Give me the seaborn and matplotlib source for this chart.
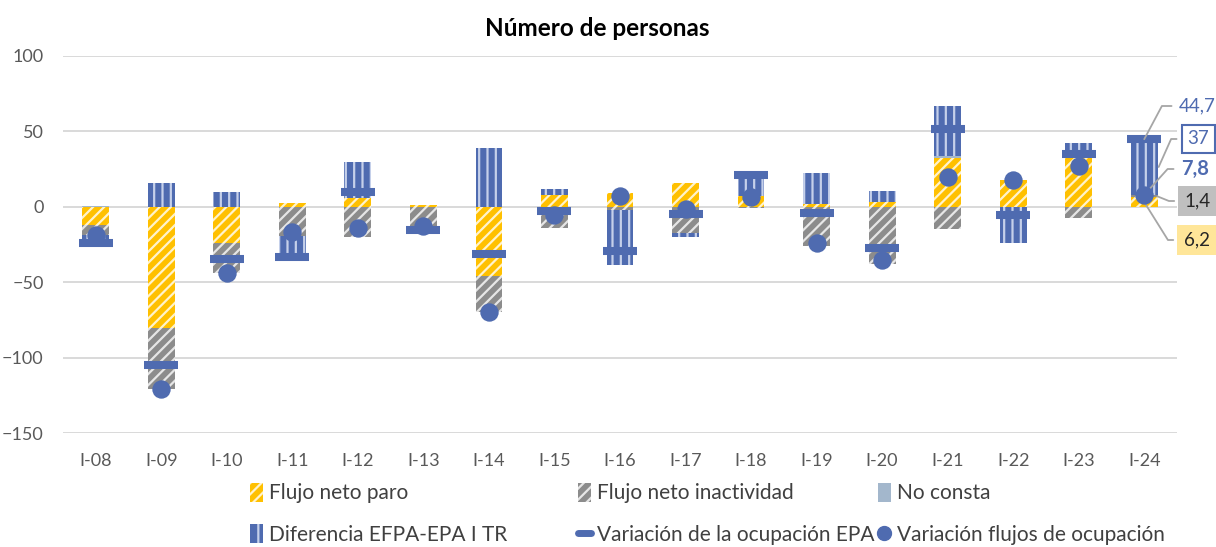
import numpy as np
import matplotlib
matplotlib.use("Agg")
import matplotlib.pyplot as plt
import seaborn as sns
from matplotlib.patches import Patch
from matplotlib.lines import Line2D

periodos = ["I-08", "I-09", "I-10", "I-11", "I-12", "I-13", "I-14", "I-15", "I-16",
            "I-17", "I-18", "I-19", "I-20", "I-21", "I-22", "I-23", "I-24"]
flujo_paro = [-12, -80, -24, 2.6, 5.6, 1.0, -46, 7.7, 9.3, 16, 7.0, 1.6, 3.3, 32.4, 17.7, 35, 6.2]
flujo_inactividad = [-7, -41, -20, -19.7, -20, -13.8, -23.6, -14.3, -2.2, -17.6, -0.8, -26, -38, -15, 0, -7.7, 1.4]
no_consta = [0.8, 0, 0, 0, 0, 0, 0, 0, 0, 0, 0, 0, 0, 1.5, 0, 0, 0.2]
diferencia = [-5, 16, 9.5, -16.5, 23.8, -2.6, 39, 4, -36.4, -2.5, 14.5, 20.5, 7.1, 32.6, -23.8, 7, 37]
var_ocupacion_epa = [-24, -105, -34.5, -33.5, 9.5, -15.4, -31, -2.6, -29.3, -4.8, 21, -4, -27.5, 51.4, -5.5, 34.7, 44.7]
var_flujos = [-18.7, -121, -44, -17, -14, -12.8, -70, -5.5, 7.1, -1.7, 6.2, -24.2, -35.3, 19.5, 17.7, 26.9, 7.8]

AMARILLO = "#FFC000"
GRIS = "#8C8C8C"
AZUL = "#4F6BB0"
AZUL_CLARO = "#A3B7CC"
TEXTO = "#595959"

sns.set_style("white")
plt.rcParams["font.family"] = ["Lato", "DejaVu Sans"]
plt.rcParams["hatch.linewidth"] = 1.6

fig = plt.figure(figsize=(12.16, 5.47), dpi=100)
ax = fig.add_axes([63 / 1216, 1 - 433.3 / 547, 1114 / 1216, 377.6 / 547])

x = np.arange(len(periodos))
series = [
    (flujo_paro, dict(color=AMARILLO, edgecolor="#FFF3CC", hatch="///", linewidth=0)),
    (flujo_inactividad, dict(color=GRIS, edgecolor="#E6E6E6", hatch="///", linewidth=0)),
    (no_consta, dict(color=AZUL_CLARO, edgecolor="none", linewidth=0)),
    (diferencia, dict(color=AZUL, edgecolor="#C5D0EA", hatch="||", linewidth=0)),
]

# apilado tipo Excel: positivos y negativos por separado
pos_base = np.zeros(len(x))
neg_base = np.zeros(len(x))
centros = []
for vals, estilo in series:
    vals = np.asarray(vals, dtype=float)
    bottom = np.where(vals >= 0, pos_base, neg_base)
    ax.bar(x, vals, bottom=bottom, width=0.41, zorder=2, **estilo)
    centros.append(bottom + vals / 2)
    pos_base += np.clip(vals, 0, None)
    neg_base += np.clip(vals, None, 0)

sns.scatterplot(x=x, y=var_ocupacion_epa, marker="_", s=600, linewidth=5.8,
                color=AZUL, ax=ax, zorder=3, legend=False)
sns.scatterplot(x=x, y=var_flujos, marker="o", s=175, linewidth=0,
                color=AZUL, ax=ax, zorder=4, legend=False)

ax.set_xlim(-0.5, len(x) - 0.5)
ax.set_ylim(-150, 100)
ax.set_yticks(range(-150, 101, 50))
ax.set_xticks(x)
ax.set_xticklabels(periodos)
ax.yaxis.grid(True, color="#D9D9D9", linewidth=1.4)
ax.set_axisbelow(True)
for s in ax.spines.values():
    s.set_visible(False)
ax.tick_params(axis="both", length=0, labelsize=13, labelcolor=TEXTO)
ax.tick_params(axis="y", pad=14)
ax.tick_params(axis="x", pad=14)
ax.set_xlabel("")
ax.set_ylabel("")

fig.text(597 / 1216, 1 - 28 / 547, "Número de personas", ha="center", va="center",
         fontsize=17.5, fontweight="bold", color="black")


def fmt(v):
    return f"{v:g}".replace(".", ",")


i = len(x) - 1
etiquetas = [
    (var_ocupacion_epa[i], (i, var_ocupacion_epa[i]), (1179, 547 - 106), 62,
     dict(color=AZUL), None),
    (diferencia[i], (i + 0.22, centros[3][i]), (1198, 547 - 139), 66,
     dict(color=AZUL), dict(boxstyle="square,pad=0.3", fc="white", ec=AZUL, lw=1.5)),
    (var_flujos[i], (i, var_flujos[i]), (1181, 547 - 169), 48,
     dict(color=AZUL, fontweight="bold", fontsize=14.5), None),
    (flujo_inactividad[i], (i + 0.2, centros[1][i]), (1198, 547 - 201), -22,
     dict(color="#262626"), dict(boxstyle="square,pad=0.35", fc="#BFBFBF", ec="none")),
    (flujo_paro[i], (i, centros[0][i]), (1197, 547 - 240), -58,
     dict(color="#262626"), dict(boxstyle="square,pad=0.35", fc="#FFE699", ec="none")),
]
for val, xy, xyt, ang, tkw, caja in etiquetas:
    ha = "center" if caja is not None else "left"
    tkw.setdefault("fontsize", 13.5)
    ax.annotate(fmt(val), xy=xy, xycoords="data", xytext=xyt, textcoords="figure pixels",
                ha=ha, va="center", bbox=caja, annotation_clip=False,
                arrowprops=dict(arrowstyle="-", color="#A6A6A6", lw=1.3, relpos=(0, 0.5),
                                shrinkA=3, shrinkB=0,
                                connectionstyle=f"angle,angleA=0,angleB={ang},rad=0"),
                **tkw)

h_paro = Patch(facecolor=AMARILLO, edgecolor="#FFF3CC", hatch="///", linewidth=0)
h_inac = Patch(facecolor=GRIS, edgecolor="#E6E6E6", hatch="///", linewidth=0)
h_nc = Patch(facecolor=AZUL_CLARO, edgecolor="none", linewidth=0)
h_dif = Patch(facecolor=AZUL, edgecolor="#C5D0EA", hatch="|", linewidth=0)
h_epa = Line2D([0], [0], color=AZUL, lw=5)
h_flu = Line2D([0], [0], color=AZUL, lw=0, marker="o", markersize=10)

columnas = [
    (250, [h_paro, h_dif], ["Flujo neto paro", "Diferencia EFPA-EPA I TR"]),
    (578, [h_inac, h_epa], ["Flujo neto inactividad", "Variación de la ocupación EPA"]),
    (878, [h_nc, h_flu], ["No consta", "Variación flujos de ocupación"]),
]
for xpix, hs, labs in columnas:
    fig.legend(hs, labs, loc="upper left", bbox_to_anchor=(xpix / 1216, 1 - 483 / 547),
               frameon=False, fontsize=15, labelcolor="#404040", handlelength=0.6,
               handleheight=1.0, handletextpad=0.3, labelspacing=1.0, borderpad=0,
               borderaxespad=0)

fig.savefig("out.png", dpi=100)
